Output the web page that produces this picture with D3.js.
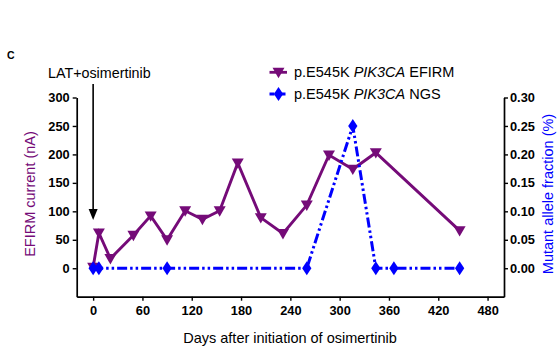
<!DOCTYPE html>
<html><head><meta charset="utf-8">
<script src="https://cdn.jsdelivr.net/npm/d3@7"></script>
<style>body{margin:0;background:#fff}svg{display:block;font-family:"Liberation Sans",Arial,sans-serif}</style>
</head><body><svg id="c" width="560" height="349"></svg>
<script>
const efirmDays = [0, 7, 21, 49, 70, 90, 112, 133, 154, 176, 204, 231, 260, 287, 316, 344, 446];
const efirmValues = [2, 62, 17, 58, 92, 50, 101, 86, 101, 185, 89, 61, 111, 199, 174, 203, 66];
const ngsDays = [0, 7, 90, 260, 316, 344, 366, 446];
const ngsValues = [0, 0, 0, 0, 0.25, 0, 0, 0];
const xTicks = [0, 60, 120, 180, 240, 300, 360, 420, 480];
const yLeftTicks = [0, 50, 100, 150, 200, 250, 300];
const yRightTicks = [0, 0.05, 0.10, 0.15, 0.20, 0.25, 0.30];

const purple = "#750b78", blue = "#0000ff";
const svg = d3.select("#c");
const x = d3.scaleLinear().domain([-20, 500]).range([76.7, 504]);
const yL = d3.scaleLinear().domain([-50, 300]).range([296.7, 97.5]);
const yR = d3.scaleLinear().domain([-0.05, 0.30]).range([296.7, 97.5]);

// axes
const gx = svg.append("g").attr("transform", "translate(0,296.7)")
  .call(d3.axisBottom(x).tickValues(xTicks).tickSize(4).tickSizeOuter(0).tickPadding(5));
const gl = svg.append("g").attr("transform", "translate(76.7,0)")
  .call(d3.axisLeft(yL).tickValues(yLeftTicks).tickSize(4).tickSizeOuter(0).tickPadding(3));
const gr = svg.append("g").attr("transform", "translate(504,0)")
  .call(d3.axisRight(yR).tickValues(yRightTicks).tickFormat(d3.format(".2f")).tickSize(4).tickSizeOuter(0).tickPadding(2));
[gx, gl, gr].forEach(g => {
  g.selectAll(".domain").attr("stroke", "#000").attr("stroke-width", 1.7);
  g.selectAll(".tick line").attr("stroke", "#000").attr("stroke-width", 1.4);
  g.selectAll(".tick text").attr("fill", "#000").style("font-size", "12.8px").style("font-weight", "bold")
    .style("font-family", '"Liberation Sans",Arial,sans-serif');
});

// EFIRM line
const lineL = d3.line().x((d, i) => x(efirmDays[i])).y(d => yL(d));
svg.append("path").datum(efirmValues).attr("d", lineL)
  .attr("fill", "none").attr("stroke", purple).attr("stroke-width", 2.9).attr("stroke-linejoin", "miter");
const tri = d3.symbol().type(d3.symbolTriangle).size(62);
svg.append("g").selectAll("path").data(efirmValues).join("path")
  .attr("d", tri).attr("fill", purple)
  .attr("transform", (d, i) => `translate(${x(efirmDays[i])},${yL(d) - 1}) rotate(180)`);

// NGS line
const lineR = d3.line().x((d, i) => x(ngsDays[i])).y(d => yR(d));
svg.append("path").datum(ngsValues).attr("d", lineR)
  .attr("fill", "none").attr("stroke", blue).attr("stroke-width", 3)
  .attr("stroke-dasharray", "10,3,2.5,3,2.5,3");
const dia = d3.symbol().type(d3.symbolDiamond).size(56);
svg.append("g").selectAll("path").data(ngsValues).join("path")
  .attr("d", dia).attr("fill", blue)
  .attr("transform", (d, i) => `translate(${x(ngsDays[i])},${yR(d)}) scale(1.15,1)`);

// Arrow annotation
svg.append("line").attr("x1", x(0)).attr("x2", x(0)).attr("y1", 84).attr("y2", 212)
  .attr("stroke", "#000").attr("stroke-width", 1.6);
svg.append("path").attr("d", `M${x(0)-4.5},209 L${x(0)+4.5},209 L${x(0)},220 Z`).attr("fill", "#000");
svg.append("text").attr("x", 48).attr("y", 77.5).text("LAT+osimertinib")
  .style("font-size", "14.3px").attr("fill", "#000");

// Panel label
svg.append("text").attr("x", 7).attr("y", 59).text("C")
  .style("font-size", "10.5px").style("font-weight", "bold");

// Legend
const lg = svg.append("g");
const legendItems = [
  {y: 72.3, color: purple, sym: "tri", name: "EFIRM"},
  {y: 94, color: blue, sym: "dia", name: "NGS"}
];
legendItems.forEach(it => {
  lg.append("line").attr("x1", 269.5).attr("x2", 287).attr("y1", it.y).attr("y2", it.y)
    .attr("stroke", it.color).attr("stroke-width", 2.8)
    .attr("stroke-dasharray", it.sym === "dia" ? "5,2,2,2" : null);
  lg.append("path").attr("fill", it.color)
    .attr("d", it.sym === "tri" ? tri() : dia())
    .attr("transform", it.sym === "tri" ? `translate(278.5,${it.y - 1}) rotate(180)` : `translate(278.5,${it.y}) scale(1.15,1)`);
  const t = lg.append("text").attr("x", 294).attr("y", it.y + 5).style("font-size", "14.5px").attr("fill", "#000");
  t.append("tspan").text("p.E545K ");
  t.append("tspan").style("font-style", "italic").text("PIK3CA");
  t.append("tspan").text(" " + it.name);
});

// Axis titles
svg.append("text").attr("transform", "translate(35,194) rotate(-90)").attr("text-anchor", "middle")
  .text("EFIRM current (nA)").style("font-size", "14.5px").attr("fill", purple);
svg.append("text").attr("transform", "translate(553,194) rotate(-90)").attr("text-anchor", "middle")
  .text("Mutant allele fraction (%)").style("font-size", "14.5px").attr("fill", blue);
svg.append("text").attr("x", 290).attr("y", 343).attr("text-anchor", "middle")
  .text("Days after initiation of osimertinib").style("font-size", "14.5px").attr("fill", "#000");
</script></body></html>
